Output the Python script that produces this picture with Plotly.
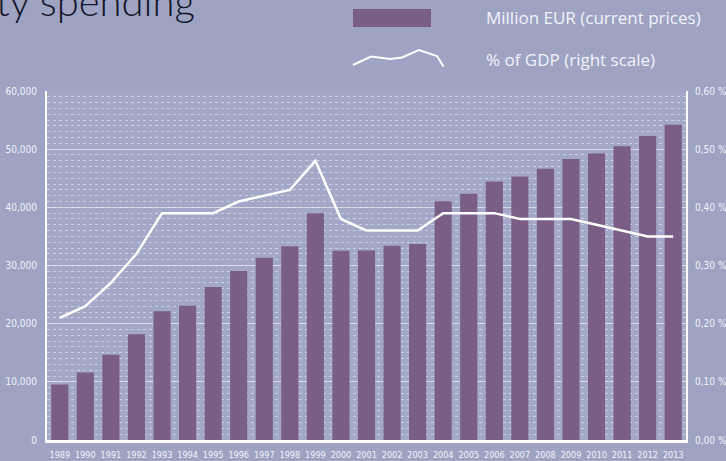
import plotly.graph_objects as go

years = list(range(1989, 2014))
million_eur = [9550, 11600, 14650, 18200, 22150, 23100, 26300, 29050, 31350, 33300,
               39000, 32550, 32600, 33400, 33700, 41050, 42350, 44450, 45300, 46650,
               48300, 49250, 50500, 52250, 54200]
pct_gdp = [0.21, 0.23, 0.27, 0.32, 0.39, 0.39, 0.39, 0.41, 0.42, 0.43,
           0.48, 0.38, 0.36, 0.36, 0.36, 0.39, 0.39, 0.39, 0.38, 0.38,
           0.38, 0.37, 0.36, 0.35, 0.35]
left_ticks = [0, 10000, 20000, 30000, 40000, 50000, 60000]
right_ticks = [0.0, 0.1, 0.2, 0.3, 0.4, 0.5, 0.6]
right_labels = ["0,00 %", "0,10 %", "0,20 %", "0,30 %", "0,40 %", "0,50 %", "0,60 %"]
legend_labels = ["Million EUR (current prices)", "% of GDP (right scale)"]
title_text = "ty spending"

W, H = 726, 461
L, R, T, B = 47, 40, 91, 21
PW, PH = W - L - R, H - T - B

def px(x):
    return (x - L) / PW

def py(y):
    return (H - B - y) / PH

BAR = "#7a5e85"
BG = "#9ea3c4"
TXT = "#f2f2f8"
TICKFONT = dict(family="Liberation Sans Narrow, DejaVu Sans Condensed, sans-serif", size=10, color=TXT)
XTICKFONT = dict(family="Liberation Sans Narrow, DejaVu Sans Condensed, sans-serif", size=9, color=TXT)

fig = go.Figure()
fig.add_trace(go.Bar(x=years, y=million_eur, marker=dict(color=BAR, line=dict(width=0)),
                     name=legend_labels[0], yaxis="y"))
fig.add_trace(go.Scatter(x=years, y=pct_gdp, mode="lines", line=dict(color="white", width=2.5),
                         name=legend_labels[1], yaxis="y2"))

fig.update_layout(
    width=W, height=H,
    margin=dict(l=L, r=R, t=T, b=B, pad=0, autoexpand=False),
    paper_bgcolor=BG, plot_bgcolor="#a3a7c8",
    showlegend=False, bargap=0.33,
    xaxis=dict(range=[1988.5, 2013.5], tickmode="array", tickvals=years,
               ticktext=[str(y) for y in years], tickfont=XTICKFONT, showgrid=False,
               tickangle=0, automargin=False,
               showline=True, linecolor="white", linewidth=3, ticks="", ticklabelstandoff=4,
               zeroline=False, fixedrange=True),
    yaxis=dict(range=[0, 60000], tickvals=left_ticks, tickformat=",", tickfont=TICKFONT,
               automargin=False,
               showgrid=True, gridcolor="rgba(225,228,240,0.75)", gridwidth=1,
               minor=dict(dtick=1000, showgrid=True, griddash="dot",
                          gridcolor="rgba(230,232,244,0.6)", gridwidth=1),
               showline=True, linecolor="white", linewidth=2, ticks="", ticklabelstandoff=6,
               zeroline=False),
    yaxis2=dict(range=[0, 0.6], tickvals=right_ticks, ticktext=right_labels, tickfont=TICKFONT,
                automargin=False,
                overlaying="y", side="right", showgrid=False, showline=True,
                linecolor="white", linewidth=2, ticks="", ticklabelstandoff=5, zeroline=False),
)

# Custom legend
fig.add_shape(type="rect", xref="paper", yref="paper",
              x0=px(353), x1=px(431), y0=py(27), y1=py(9),
              fillcolor=BAR, line=dict(width=0))
sq = [(353, 65), (371, 56.5), (390, 59), (402, 57.5), (419, 50), (437, 56), (443.5, 66.5)]
path = "M " + " L ".join(f"{px(a):.5f},{py(b):.5f}" for a, b in sq)
fig.add_shape(type="path", xref="paper", yref="paper", path=path,
              line=dict(color="white", width=2))
for label, yy in zip(legend_labels, [18, 60]):
    fig.add_annotation(text=label, xref="paper", yref="paper", x=px(484), y=py(yy),
                       xanchor="left", yanchor="middle", showarrow=False,
                       font=dict(family="Open Sans, sans-serif", size=17, color=TXT))

fig.add_annotation(text=title_text, xref="paper", yref="paper", x=px(-6), y=py(1),
                   xanchor="left", yanchor="middle", showarrow=False,
                   font=dict(family="Lato, Open Sans, sans-serif", size=40, color="#15152a", weight=300))

fig.write_html("out.html", config={"displayModeBar": False},
               post_script="document.body.style.margin='0';document.body.style.overflow='hidden';")
